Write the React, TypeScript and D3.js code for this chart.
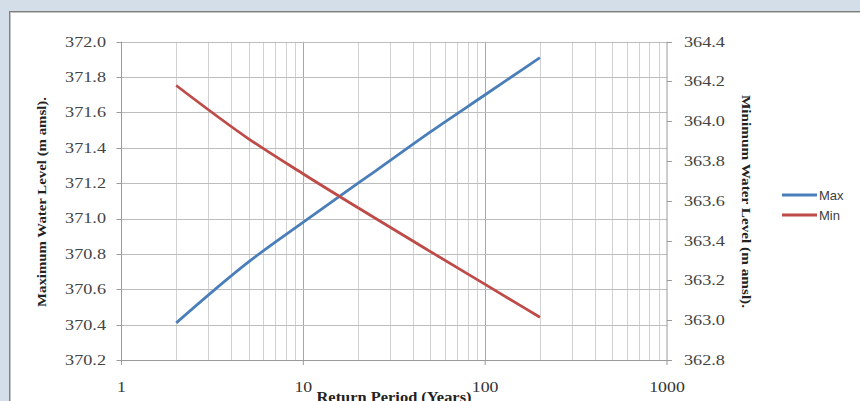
import React from "react";
import * as d3 from "d3";

const returnPeriods = [2, 5, 10, 20, 25, 50, 100, 200];
const maxLevels = [370.41, 370.755, 370.98, 371.2, 371.27, 371.49, 371.7, 371.91];
const minLevels = [364.18, 363.912, 363.735, 363.565, 363.511, 363.345, 363.18, 363.015];
const xTicks = [1, 10, 100, 1000];
const leftTicks = [370.2, 370.4, 370.6, 370.8, 371.0, 371.2, 371.4, 371.6, 371.8, 372.0];
const rightTicks = [362.8, 363.0, 363.2, 363.4, 363.6, 363.8, 364.0, 364.2, 364.4];
const seriesNames = ["Max", "Min"];
const seriesColors = ["#4a7ebb", "#be4b48"];

const W = 860;
const H = 401;
const plot = { left: 121.5, right: 667, top: 41.7, bottom: 360 };

export default function App() {
  const x = d3.scaleLog().domain([1, 1000]).range([plot.left, plot.right]);
  const yL = d3.scaleLinear().domain([370.2, 372.0]).range([plot.bottom, plot.top]);
  const yR = d3.scaleLinear().domain([362.8, 364.4]).range([plot.bottom, plot.top]);

  const minor: number[] = [];
  [1, 10, 100].forEach((d) => {
    for (let k = 2; k <= 9; k++) minor.push(d * k);
  });

  const maxData = returnPeriods.map((t, i) => [t, maxLevels[i]] as [number, number]);
  const minData = returnPeriods.map((t, i) => [t, minLevels[i]] as [number, number]);
  const lineL = d3
    .line<[number, number]>()
    .x((d) => x(d[0]))
    .y((d) => yL(d[1]))
    .curve(d3.curveMonotoneX);
  const lineR = d3
    .line<[number, number]>()
    .x((d) => x(d[0]))
    .y((d) => yR(d[1]))
    .curve(d3.curveMonotoneX);

  const serif = "'Liberation Serif', 'Times New Roman', serif";
  const sans = "'Liberation Sans', Arial, sans-serif";
  const tickColor = "#444444";
  const sx = 1.3;

  return (
    <svg
      width={W}
      height={H}
      style={{ position: "absolute", left: 0, top: 0, display: "block" }}
    >
      <rect x={0} y={0} width={W} height={H} fill="#d3dee8" />
      <rect x={9.5} y={11.5} width={W} height={H} fill="#ffffff" stroke="#7f7f7f" strokeWidth={1} />
      <line x1={10.5} x2={10.5} y1={12} y2={H} stroke="#c4c4c4" />
      <line x1={10} x2={W} y1={12.5} y2={12.5} stroke="#c4c4c4" />

      {/* minor vertical gridlines */}
      {minor.map((v) => (
        <line
          key={"m" + v}
          x1={Math.round(x(v)) + 0.5}
          x2={Math.round(x(v)) + 0.5}
          y1={plot.top}
          y2={plot.bottom}
          stroke="#d2d2d2"
          strokeWidth={1}
        />
      ))}
      {/* major vertical gridlines */}
      {xTicks.slice(1, 3).map((v) => (
        <line
          key={"M" + v}
          x1={Math.round(x(v)) + 0.5}
          x2={Math.round(x(v)) + 0.5}
          y1={plot.top}
          y2={plot.bottom}
          stroke="#a8a8a8"
          strokeWidth={1}
        />
      ))}
      {/* horizontal gridlines */}
      {leftTicks.map((v) => (
        <line
          key={"h" + v}
          x1={plot.left}
          x2={plot.right}
          y1={Math.round(yL(v)) + 0.5}
          y2={Math.round(yL(v)) + 0.5}
          stroke="#bdbdbd"
          strokeWidth={1}
        />
      ))}

      {/* axes lines */}
      <line x1={plot.left} x2={plot.left} y1={plot.top} y2={plot.bottom + 0.5} stroke="#9a9a9a" />
      <line x1={plot.right} x2={plot.right} y1={plot.top} y2={plot.bottom + 0.5} stroke="#9a9a9a" />
      <line x1={plot.left} x2={plot.right} y1={Math.round(plot.bottom) + 0.5} y2={Math.round(plot.bottom) + 0.5} stroke="#9a9a9a" />

      {/* left ticks */}
      {leftTicks.map((v) => (
        <g key={"lt" + v}>
          <line x1={plot.left - 5} x2={plot.left} y1={Math.round(yL(v)) + 0.5} y2={Math.round(yL(v)) + 0.5} stroke="#9a9a9a" />
          <text
            transform={`translate(106,${yL(v)}) scale(${sx},1)`}
            dy="0.35em"
            textAnchor="end"
            fontFamily={serif}
            fontSize={14}
            fill={tickColor}
          >
            {v.toFixed(1)}
          </text>
        </g>
      ))}
      {/* right ticks */}
      {rightTicks.map((v) => (
        <g key={"rt" + v}>
          <line x1={plot.right} x2={plot.right + 5} y1={Math.round(yR(v)) + 0.5} y2={Math.round(yR(v)) + 0.5} stroke="#9a9a9a" />
          <text
            transform={`translate(684,${yR(v)}) scale(${sx},1)`}
            dy="0.35em"
            textAnchor="start"
            fontFamily={serif}
            fontSize={14}
            fill={tickColor}
          >
            {v.toFixed(1)}
          </text>
        </g>
      ))}
      {/* x ticks */}
      {xTicks.map((v) => (
        <g key={"xt" + v}>
          <line x1={x(v)} x2={x(v)} y1={plot.bottom} y2={plot.bottom + 5} stroke="#9a9a9a" />
          <text
            transform={`translate(${x(v)},391.5) scale(1.27,1)`}
            textAnchor="middle"
            fontFamily={serif}
            fontSize={14}
            fill="#333"
          >
            {String(v)}
          </text>
        </g>
      ))}

      {/* axis titles */}
      <text
        x={316.5}
        y={402}
        textLength={155}
        lengthAdjust="spacingAndGlyphs"
        fontFamily={serif}
        fontWeight="bold"
        fontSize={14}
        fill="#222"
      >
        Return Period (Years)
      </text>
      <text
        transform={`translate(46,307) rotate(-90)`}
        textLength={210}
        lengthAdjust="spacingAndGlyphs"
        fontFamily={serif}
        fontWeight="bold"
        fontSize={13.5}
        fill="#222"
      >
        Maximum Water Level (m amsl).
      </text>
      <text
        transform={`translate(742,95) rotate(90)`}
        textLength={213}
        lengthAdjust="spacingAndGlyphs"
        fontFamily={serif}
        fontWeight="bold"
        fontSize={13.5}
        fill="#222"
      >
        Minimum Water Level (m amsl).
      </text>

      {/* series */}
      <path d={lineL(maxData) || ""} fill="none" stroke={seriesColors[0]} strokeWidth={2.8} />
      <path d={lineR(minData) || ""} fill="none" stroke={seriesColors[1]} strokeWidth={2.8} />

      {/* legend */}
      {seriesNames.map((n, i) => (
        <g key={n}>
          <line x1={782} x2={817} y1={195 + i * 20} y2={195 + i * 20} stroke={seriesColors[i]} strokeWidth={2.8} />
          <text x={819} y={195 + i * 20} dy="0.35em" fontFamily={sans} fontSize={13} fill="#404040">
            {n}
          </text>
        </g>
      ))}
    </svg>
  );
}
